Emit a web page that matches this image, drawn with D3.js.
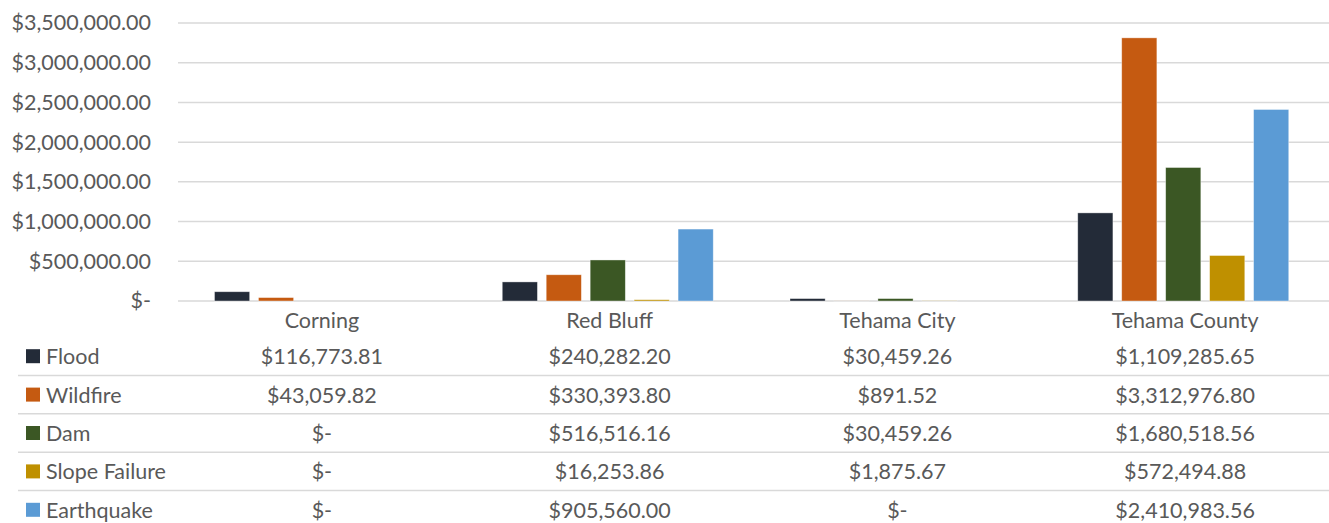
<!DOCTYPE html>
<meta charset="utf-8">
<script src="https://d3js.org/d3.v7.min.js"></script>
<style>
  body { margin: 0; background: #fff; }
  text { font-family: Lato, "Open Sans", sans-serif; fill: #595959; }
</style>
<div id="my_dataviz"></div>
<script>

const categories = ["Corning", "Red Bluff", "Tehama City", "Tehama County"];
const series = ["Flood", "Wildfire", "Dam", "Slope Failure", "Earthquake"];
const flood      = [116773.81, 240282.20, 30459.26, 1109285.65];
const wildfire   = [43059.82, 330393.80, 891.52, 3312976.80];
const dam        = [0, 516516.16, 30459.26, 1680518.56];
const slope      = [0, 16253.86, 1875.67, 572494.88];
const earthquake = [0, 905560.00, 0, 2410983.56];
const yTicks = [0, 500000, 1000000, 1500000, 2000000, 2500000, 3000000, 3500000];

const values = [flood, wildfire, dam, slope, earthquake];
const colors = ["#232b38", "#c55a11", "#3b5724", "#bf9000", "#5b9bd5"];

const W = 1329, H = 523;
const plot = {left: 178, right: 1329, top: 23, bottom: 301};
const rowTop = 337, rowH = 38.4;   // table rows
const fs = "21.5px";

const svg = d3.select("#my_dataviz")
  .append("svg")
    .attr("width", W)
    .attr("height", H);

const x0 = d3.scaleBand()
    .domain(categories)
    .range([plot.left, plot.right]);

const x1 = d3.scaleBand()
    .domain(series)
    .range([36.5, 247.5])
    .paddingInner(0.2)
    .paddingOuter(0);

const y = d3.scaleLinear()
    .domain([0, 3500000])
    .range([plot.bottom, plot.top]);

const money = d3.format("$,.2f");
const fmt = v => v === 0 ? "$-" : money(v);

// gridlines
svg.append("g")
  .selectAll("line")
  .data(yTicks)
  .join("line")
    .attr("x1", plot.left)
    .attr("x2", plot.right)
    .attr("y1", d => y(d))
    .attr("y2", d => y(d))
    .attr("stroke", "#d9d9d9")
    .attr("stroke-width", 1.5);

// y axis labels
const yAxis = svg.append("g")
    .attr("transform", `translate(${plot.left - 27},0)`)
    .call(d3.axisLeft(y).tickValues(yTicks).tickFormat(fmt).tickSize(0).tickPadding(0));
yAxis.select(".domain").remove();
yAxis.selectAll("text")
    .style("font-size", fs)
    .style("font-family", "Lato, 'Open Sans', sans-serif")
    .attr("fill", "#595959");

// bars
series.forEach((s, i) => {
  svg.append("g")
    .selectAll("rect")
    .data(categories.map((c, j) => ({c: c, v: values[i][j]})))
    .join("rect")
      .attr("x", d => x0(d.c) + x1(s))
      .attr("y", d => y(d.v))
      .attr("width", x1.bandwidth())
      .attr("height", d => y(0) - y(d.v))
      .attr("fill", colors[i])
      .attr("stroke", "#fff")
      .attr("stroke-opacity", 0.5)
      .attr("stroke-width", 0.75);
});

// category labels
svg.append("g")
  .selectAll("text")
  .data(categories)
  .join("text")
    .attr("x", d => x0(d) + x0.bandwidth() / 2)
    .attr("y", 320)
    .attr("text-anchor", "middle")
    .attr("dominant-baseline", "central")
    .style("font-size", fs)
    .text(d => d);

// data table
series.forEach((s, i) => {
  const cy = rowTop + rowH * i + rowH / 2;
  if (i > 0) {
    svg.append("line")
      .attr("x1", 18).attr("x2", W)
      .attr("y1", rowTop + rowH * i).attr("y2", rowTop + rowH * i)
      .attr("stroke", "#d9d9d9")
      .attr("stroke-width", 1.5);
  }
  svg.append("rect")
    .attr("x", 26).attr("y", cy - 7)
    .attr("width", 14).attr("height", 14)
    .attr("fill", colors[i]);
  svg.append("text")
    .attr("x", 46).attr("y", cy)
    .attr("dominant-baseline", "central")
    .style("font-size", fs)
    .text(s);
  svg.append("g")
    .selectAll("text")
    .data(categories.map((c, j) => ({c: c, v: values[i][j]})))
    .join("text")
      .attr("x", d => x0(d.c) + x0.bandwidth() / 2)
      .attr("y", cy)
      .attr("text-anchor", "middle")
      .attr("dominant-baseline", "central")
      .style("font-size", fs)
      .text(d => fmt(d.v));
});
</script>
